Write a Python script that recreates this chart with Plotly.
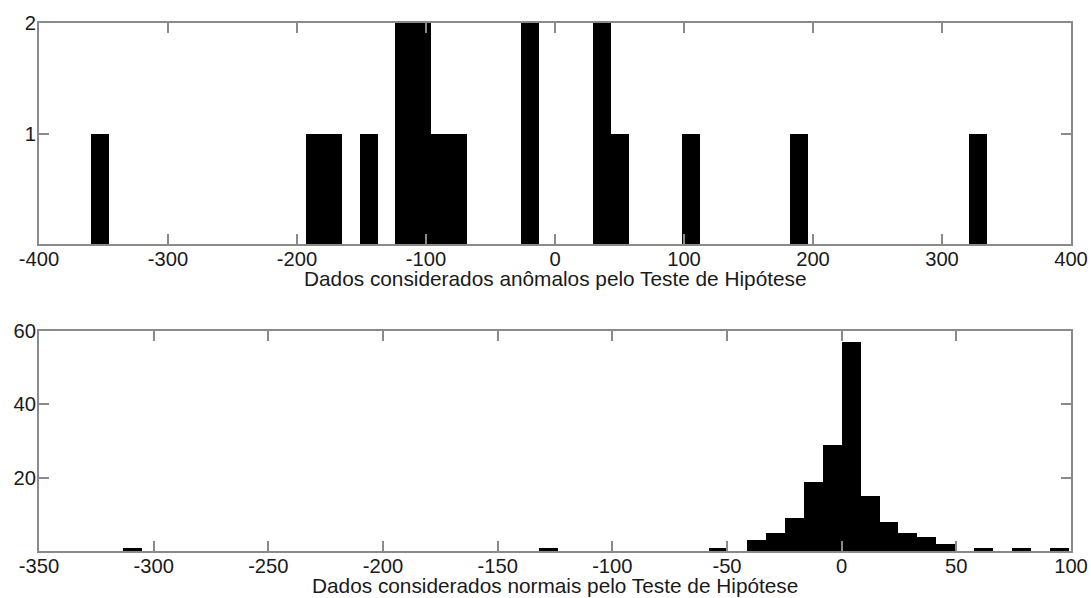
import plotly.graph_objects as go
from plotly.subplots import make_subplots

# Top histogram: anomalous data (50 bins from -360 to 335)
top_bin_width = 13.9
top_bin_start = -360.0
top_bin_index = [0, 12, 13, 15, 17, 18, 19, 20, 24, 28, 29, 33, 39, 49]
top_counts = [1, 1, 1, 1, 2, 2, 1, 1, 2, 2, 1, 1, 1, 1]

# Bottom histogram: normal data (50 bins of width 8.25 from -313.5 to 99)
bot_bin_width = 8.25
bot_bin_start = -313.5
bot_bin_index = [0, 22, 31, 33, 34, 35, 36, 37, 38, 39, 40, 41, 42, 43, 45, 47, 49]
bot_counts = [1, 1, 1, 3, 5, 9, 19, 29, 57, 15, 8, 5, 4, 2, 1, 1, 1]

top_ticks = [-400, -300, -200, -100, 0, 100, 200, 300, 400]
bot_ticks = [-350, -300, -250, -200, -150, -100, -50, 0, 50, 100]
top_yticks = [1, 2]
bot_yticks = [20, 40, 60]

top_title = "Dados considerados anômalos pelo Teste de Hipótese"
bot_title = "Dados considerados normais pelo Teste de Hipótese"

top_x = [top_bin_start + (i + 0.5) * top_bin_width for i in top_bin_index]
bot_x = [bot_bin_start + (i + 0.5) * bot_bin_width for i in bot_bin_index]

fig = make_subplots(rows=2, cols=1)
fig.add_trace(go.Bar(x=top_x, y=top_counts, width=top_bin_width,
                     marker=dict(color="black", line=dict(width=0)),
                     showlegend=False), row=1, col=1)
fig.add_trace(go.Bar(x=bot_x, y=bot_counts, width=bot_bin_width,
                     marker=dict(color="black", line=dict(width=0)),
                     showlegend=False), row=2, col=1)

family = "Liberation Sans, Arial, sans-serif"
tick_font = dict(family=family, size=20.2, color="#1a1a1a")
title_font = dict(family=family, size=20.8, color="#1a1a1a")
axis_common = dict(showline=True, linecolor="#8a8a8a", linewidth=2, mirror="allticks",
                   ticks="inside", ticklen=10, tickwidth=1.5, tickcolor="#8a8a8a",
                   showgrid=False, zeroline=False, tickfont=tick_font, automargin=False)

fig.update_xaxes(axis_common, ticklabelstandoff=-4)
fig.update_yaxes(axis_common, ticklabelstandoff=-3)

fig.update_xaxes(range=[-400, 400], tickvals=top_ticks,
                 ticktext=[str(v) for v in top_ticks], domain=[0, 1], row=1, col=1)
fig.update_yaxes(range=[0, 2], tickvals=top_yticks, domain=[0.5814, 1], row=1, col=1)
fig.update_xaxes(range=[-350, 100], tickvals=bot_ticks,
                 ticktext=[str(v) for v in bot_ticks], domain=[0, 1], row=2, col=1)
fig.update_yaxes(range=[0, 60], tickvals=bot_yticks, domain=[0, 0.4172], row=2, col=1)

fig.add_annotation(text=top_title, xref="x domain", yref="y domain", x=0.5, y=0,
                   xanchor="center", yanchor="middle", yshift=-34,
                   showarrow=False, font=title_font)
fig.add_annotation(text=bot_title, xref="x2 domain", yref="y2 domain", x=0.5, y=0,
                   xanchor="center", yanchor="middle", yshift=-34.5,
                   showarrow=False, font=title_font)

fig.update_layout(width=1091, height=598, margin=dict(l=39, r=20, t=23, b=47),
                  paper_bgcolor="white", plot_bgcolor="white", bargap=0,
                  font=tick_font)

fig.write_html("out.html", config={"displayModeBar": False},
               post_script="document.body.style.margin='0';")
